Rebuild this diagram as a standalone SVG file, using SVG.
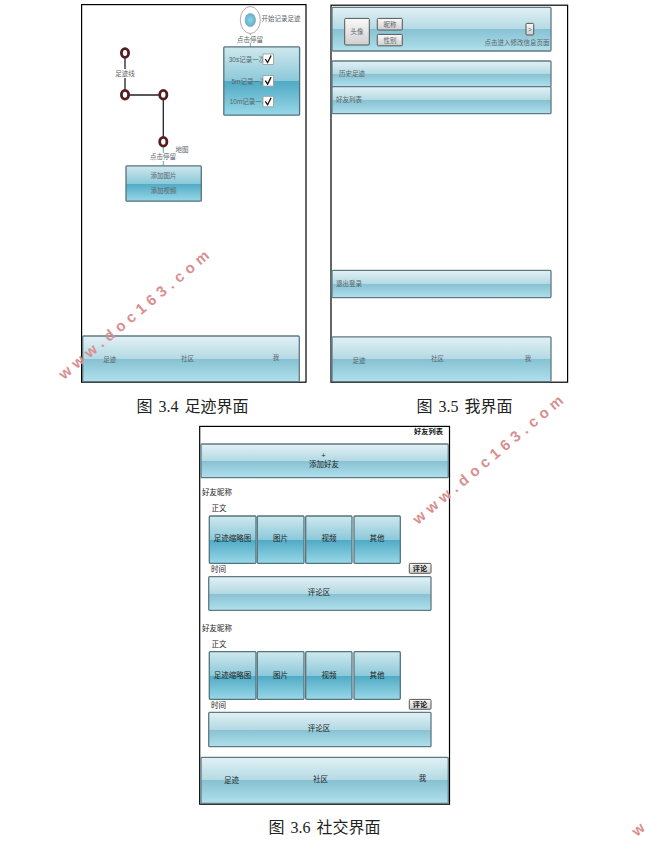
<svg xmlns="http://www.w3.org/2000/svg" width="648" height="846" viewBox="0 0 648 846">
<style>
text{font-family:"Liberation Sans","Noto Sans CJK SC",sans-serif;text-anchor:middle;font-size:6.5px;fill:#5a6468}
.k{fill:#222;font-size:7.5px}
.kb{fill:#111;font-size:7.2px;font-weight:700}
.l{text-anchor:start}
.cap{font-family:"Liberation Serif","Noto Sans CJK SC",serif;font-size:16px;fill:#222;word-spacing:2px}
.wm{font-family:"Liberation Sans",sans-serif;font-size:15px;font-weight:700;fill:#d98f8f;text-anchor:start}
.frame{fill:#fff;stroke:#000;stroke-width:1.2}
.p{fill:url(#g1);stroke:#5f7a82;stroke-width:1.3}
.c{fill:url(#g2);stroke:#55737c;stroke-width:1.3}
.b{fill:url(#g3);stroke:#555;stroke-width:1}
.n{fill:#fff;stroke:#561c20;stroke-width:2.8}
.e{stroke:#222;stroke-width:1.3;fill:none}
.g{stroke:#5fae8a;stroke-width:1;fill:none}
.cb{fill:#fff;stroke:#999;stroke-width:.8}
.ck{fill:none;stroke:#111;stroke-width:1.3}
</style>
<defs>
<linearGradient id="g1" x1="0" y1="0" x2="0" y2="1"><stop offset="0" stop-color="#e2f1f5"/><stop offset=".5" stop-color="#b4d9e3"/><stop offset=".5" stop-color="#86c1d2"/><stop offset="1" stop-color="#b0e0ec"/></linearGradient>
<linearGradient id="g2" x1="0" y1="0" x2="0" y2="1"><stop offset="0" stop-color="#cfe8ee"/><stop offset=".5" stop-color="#8cc9da"/><stop offset=".5" stop-color="#4fa9c4"/><stop offset="1" stop-color="#98d8e8"/></linearGradient>
<linearGradient id="g3" x1="0" y1="0" x2="0" y2="1"><stop offset="0" stop-color="#fafafa"/><stop offset="1" stop-color="#cfcfcf"/></linearGradient>
<radialGradient id="g4"><stop offset="0" stop-color="#8fd4e6"/><stop offset="1" stop-color="#5fb4d0"/></radialGradient>
</defs>
<rect width="648" height="846" fill="#fff"/>

<g id="screen-footprint">
<rect class="frame" x="81.6" y="4.6" width="224.4" height="377.6"/>
</g>
<g id="connectors">
<path class="e" d="M125 53V95H163.3V142"/>
<path class="g" d="M250.3 33V46.7M163.3 146V165.7"/>
</g>
<g id="node-a"><ellipse class="n" cx="125" cy="53" rx="3.6" ry="4.4"/></g>
<g id="node-b"><ellipse class="n" cx="125" cy="94.7" rx="3.6" ry="4.4"/></g>
<g id="node-c"><ellipse class="n" cx="163.3" cy="94.7" rx="3.6" ry="4.4"/></g>
<g id="node-d"><ellipse class="n" cx="163.3" cy="141.7" rx="3.6" ry="4.4"/></g>
<g id="label-line"><rect x="112" y="69" width="26" height="9" fill="#fff"/><text x="125" y="76">足迹线</text></g>
<g id="label-map"><text x="182" y="151.5">地图</text></g>
<g id="label-stay1"><rect x="150" y="153" width="27" height="8" fill="#fff"/><text x="163" y="159">点击停留</text></g>
<g id="start">
<ellipse cx="250.3" cy="20" rx="10" ry="13.5" fill="#fff" stroke="#999" stroke-width=".8"/>
<ellipse cx="250.3" cy="20" rx="5.2" ry="6.6" fill="url(#g4)" stroke="#6a8f9a" stroke-width=".5"/>
<text x="281" y="21">开始记录足迹</text>
</g>
<g id="label-stay2"><rect x="238" y="35" width="25" height="8" fill="#fff"/><text x="250" y="42">点击停留</text></g>
<g id="record-panel">
<rect class="c" x="223.8" y="46.8" width="75.8" height="68.4" rx="1"/>
<text x="247" y="61.5">30s记录一次</text><text x="249" y="83.5">5m记录一次</text><text x="249" y="103.5">10m记录一次</text>
<rect class="cb" x="263" y="54" width="10.5" height="10.5"/><rect class="cb" x="263" y="75.6" width="10.5" height="10.5"/><rect class="cb" x="263" y="96.3" width="10.5" height="10.5"/>
<path class="ck" d="M265.3 59l2.3 3.5 3.5-7M265.3 80.6l2.3 3.5 3.5-7M265.3 101.3l2.3 3.5 3.5-7"/>
</g>
<g id="add-panel">
<rect class="c" x="126" y="165.8" width="75.3" height="35.4" rx="1"/>
<text x="163.5" y="178">添加图片</text><text x="163.5" y="193">添加视频</text>
</g>
<g id="tabbar1">
<rect class="p" x="82.7" y="336" width="216.6" height="45.7" rx="1"/>
<text x="109.7" y="361.5">足迹</text><text x="187.5" y="361">社区</text><text x="276" y="359.5">我</text>
</g>

<g id="screen-me"><rect class="frame" x="331" y="5.2" width="236.6" height="377"/></g>
<g id="profile">
<rect class="p" x="332" y="7.4" width="219" height="43.6" rx="1"/>
<rect class="b" x="344.7" y="18.4" width="24.6" height="26.6" rx="1"/><text x="357" y="34">头像</text>
<rect class="b" x="377.3" y="18.4" width="25" height="11.6" rx="1"/><text x="390" y="26.5">昵称</text>
<rect class="b" x="377.3" y="34.4" width="25" height="11.4" rx="1"/><text x="390" y="42.5">性别</text>
<rect class="b" x="526" y="23.4" width="7.7" height="11.6" rx="1"/><text x="530" y="32">&gt;</text>
<text x="517" y="45">点击进入修改信息页面</text>
</g>
<g id="history"><rect class="p" x="332" y="61" width="219" height="25.7" rx="1"/><text class="l" x="339" y="76">历史足迹</text></g>
<g id="friends"><rect class="p" x="332" y="86.7" width="219" height="27" rx="1"/><text class="l" x="336" y="102">好友列表</text></g>
<g id="logout"><rect class="p" x="332" y="270.4" width="219" height="27.2" rx="1"/><text class="l" x="336" y="286">退出登录</text></g>
<g id="tabbar2">
<rect class="p" x="332" y="336.8" width="219" height="44.8" rx="1"/>
<text x="359" y="363">足迹</text><text x="437.5" y="361">社区</text><text x="528" y="361">我</text>
</g>

<g id="screen-social"><rect class="frame" x="199.7" y="426.4" width="249.8" height="377.8"/></g>
<g id="friend-title"><text class="kb" x="428.5" y="434">好友列表</text></g>
<g id="add-friend">
<rect class="p" x="201" y="444" width="247.3" height="33.7" rx="1"/>
<text class="k" x="323.5" y="458">+</text><text class="k" x="324" y="467">添加好友</text>
</g>
<g id="post1">
<text class="k l" x="202" y="494.5">好友昵称</text><text class="k l" x="211.5" y="510.5">正文</text>
<rect class="c" x="209.3" y="516" width="46.7" height="47.3" rx="1"/><text class="k" x="232.5" y="540.5">足迹缩略图</text>
<rect class="c" x="257.3" y="516" width="46.7" height="47.3" rx="1"/><text class="k" x="280.5" y="540.5">图片</text>
<rect class="c" x="305.7" y="516" width="46.3" height="47.3" rx="1"/><text class="k" x="329" y="540.5">视频</text>
<rect class="c" x="354" y="516" width="46.3" height="47.3" rx="1"/><text class="k" x="377" y="540.5">其他</text>
<text class="k l" x="211" y="572">时间</text>
<rect class="b" x="409.3" y="563.4" width="21.7" height="9.9" rx="1"/><text class="kb" x="420" y="571">评论</text>
<rect class="p" x="208.7" y="576.7" width="222.3" height="33.6" rx="1"/><text class="k" x="319" y="595">评论区</text>
</g>
<g id="post2">
<text class="k l" x="202" y="630.5">好友昵称</text><text class="k l" x="211.5" y="647">正文</text>
<rect class="c" x="209.3" y="651.7" width="46.7" height="47.6" rx="1"/><text class="k" x="232.5" y="678">足迹缩略图</text>
<rect class="c" x="257.3" y="651.7" width="46.7" height="47.6" rx="1"/><text class="k" x="280.5" y="678">图片</text>
<rect class="c" x="305.7" y="651.7" width="46.3" height="47.6" rx="1"/><text class="k" x="329" y="678">视频</text>
<rect class="c" x="354" y="651.7" width="46.3" height="47.6" rx="1"/><text class="k" x="377" y="678">其他</text>
<text class="k l" x="211" y="708">时间</text>
<rect class="b" x="409.3" y="699.4" width="21.7" height="9.9" rx="1"/><text class="kb" x="420" y="707">评论</text>
<rect class="p" x="208.7" y="712.4" width="222.3" height="34.3" rx="1"/><text class="k" x="319" y="731">评论区</text>
</g>
<g id="tabbar3">
<rect class="p" x="201" y="757.4" width="247.3" height="45.9" rx="1"/>
<text class="k" x="231.5" y="783">足迹</text><text class="k" x="320.5" y="782">社区</text><text class="k" x="422.5" y="781">我</text>
</g>

<g id="captions">
<text class="cap" x="192.5" y="412">图 3.4 足迹界面</text>
<text class="cap" x="464.5" y="412">图 3.5 我界面</text>
<text class="cap" x="324.5" y="833">图 3.6 社交界面</text>
</g>
<g id="watermarks">
<text class="wm" textLength="191" transform="translate(64 380) rotate(-40)">www.doc163.com</text>
<text class="wm" textLength="191" transform="translate(418 525) rotate(-40)">www.doc163.com</text>
<text class="wm" transform="translate(637 837) rotate(-40)">w</text>
</g>
</svg>
